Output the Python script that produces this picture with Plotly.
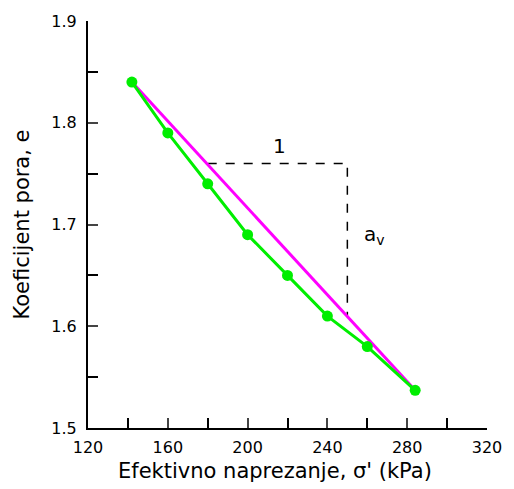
import plotly.graph_objects as go

stress = [142, 160, 180, 200, 220, 240, 260, 284]
void_ratio = [1.84, 1.79, 1.74, 1.69, 1.65, 1.61, 1.58, 1.537]
fit_x = [142, 284]
fit_y = [1.84, 1.537]
tri_x = [180, 250, 250]
tri_y = [1.76, 1.76, 1.6095]

font = "DejaVu Sans, sans-serif"

fig = go.Figure()
fig.add_trace(go.Scatter(x=tri_x, y=tri_y, mode="lines",
                         line=dict(color="black", width=1.5, dash="dash")))
fig.add_trace(go.Scatter(x=fit_x, y=fit_y, mode="lines",
                         line=dict(color="#ff00ff", width=3)))
fig.add_trace(go.Scatter(x=stress, y=void_ratio, mode="lines+markers",
                         line=dict(color="#00ee00", width=3),
                         marker=dict(color="#00ee00", size=11)))

fig.add_annotation(x=216, y=1.777, text="1", showarrow=False,
                   font=dict(size=20, color="black", family=font))
fig.add_annotation(x=263.5, y=1.69, text="a<sub>v</sub>", showarrow=False,
                   font=dict(size=20, color="black", family=font))
fig.add_annotation(xref="paper", yref="paper", x=0.468, y=-0.106, yanchor="middle",
                   text="Efektivno naprezanje, σ' (kPa)", showarrow=False,
                   font=dict(size=21, color="black", family=font))

fig.update_layout(
    width=514, height=489,
    margin=dict(l=88, r=18, t=19, b=61),
    plot_bgcolor="white", paper_bgcolor="white",
    showlegend=False,
    font=dict(family=font, color="black", size=16),
    xaxis=dict(range=[120, 320], dtick=40, tick0=120, ticks="inside", ticklen=10,
               tickwidth=1.5, showline=True, linecolor="black", linewidth=2,
               showgrid=False, zeroline=False, tickfont=dict(size=16),
               ticklabelstandoff=4,
               minor=dict(dtick=20, ticks="inside", ticklen=10, tickwidth=1.5, tickcolor="black")),
    yaxis=dict(range=[1.5, 1.9], dtick=0.1, tick0=1.5, ticks="inside", ticklen=10,
               tickwidth=1.5, showline=True, linecolor="black", linewidth=2,
               showgrid=False, zeroline=False, tickfont=dict(size=16), tickformat=".1f",
               ticklabelstandoff=6,
               minor=dict(dtick=0.05, ticks="inside", ticklen=10, tickwidth=1.5, tickcolor="black"),
               title=dict(text="Koeficijent pora, e", font=dict(size=21), standoff=16)),
)

fig.write_html("out.html")
